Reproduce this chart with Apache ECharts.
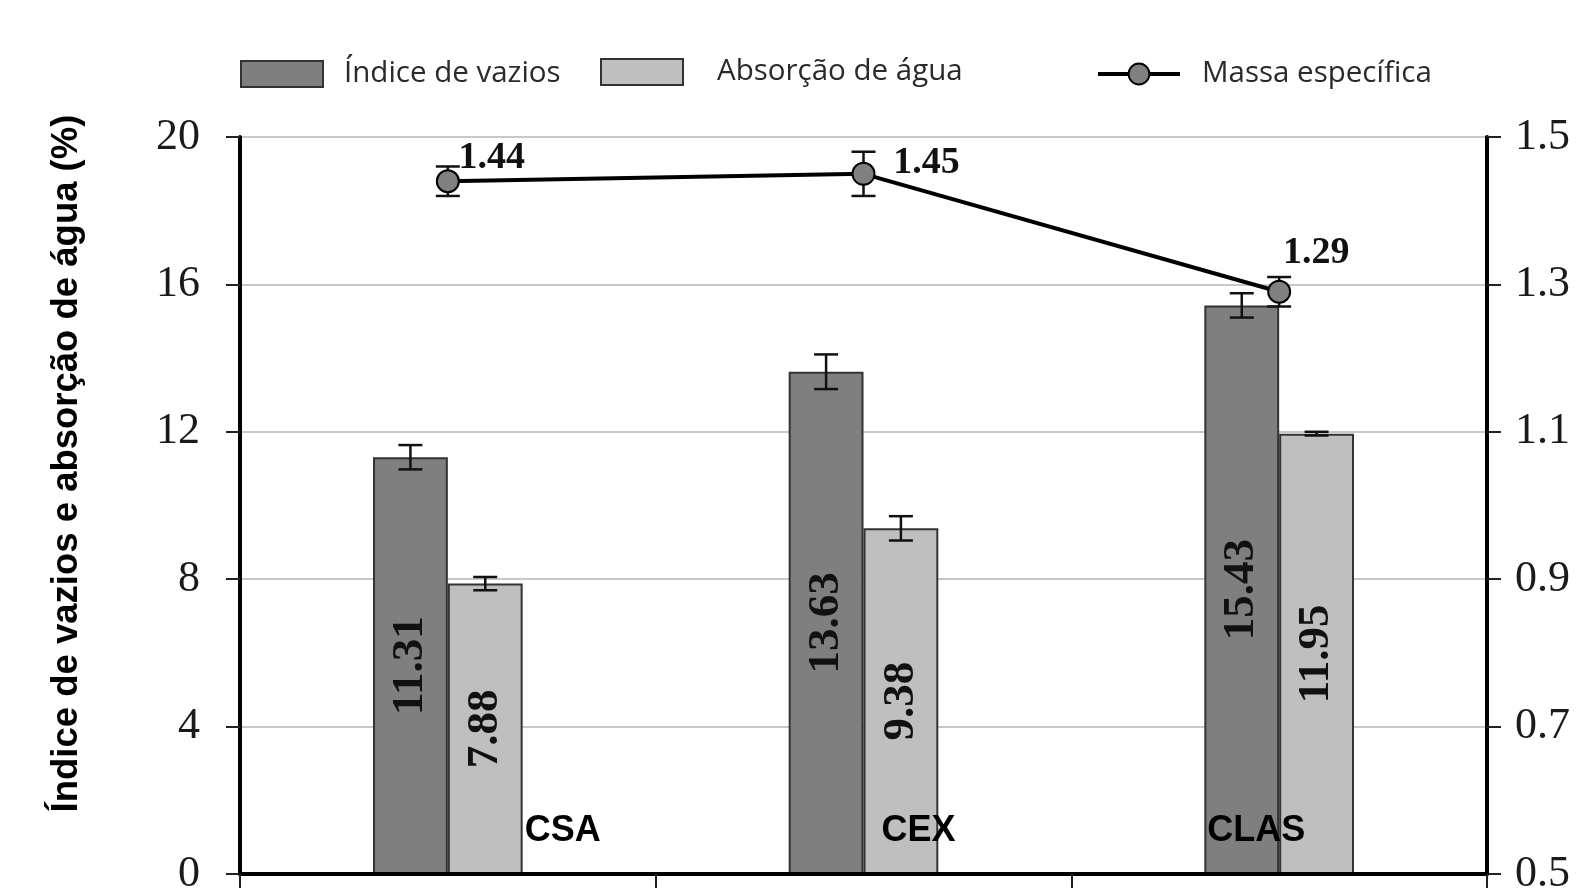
<!DOCTYPE html>
<html>
<head>
<meta charset="utf-8">
<script src="https://cdn.jsdelivr.net/npm/echarts@6/dist/echarts.min.js"></script>
<style>
html,body{margin:0;padding:0;background:#fff;}
#c{width:1579px;height:888px;}
</style>
</head>
<body>
<div id="c"></div>
<script>
var categories = ['CSA', 'CEX', 'CLAS'];
var indiceVazios = [11.31, 13.63, 15.43];
var indiceVaziosErr = [0.33, 0.47, 0.33];
var absorcaoAgua = [7.88, 9.38, 11.95];
var absorcaoAguaErr = [0.18, 0.33, 0.05];
var massaEspecifica = [1.44, 1.45, 1.29];
var massaEspecificaErr = [0.02, 0.03, 0.02];
var leftTicks = {min: 0, max: 20, interval: 4};
var rightTicks = {min: 0.5, max: 1.5, interval: 0.2};

var chart = echarts.init(document.getElementById('c'), null, {renderer: 'canvas'});

var BAR_FRAC = 0.18;
var catPadding = [[0,0,0,230],[0,0,0,110],[0,46,0,0]];
var lineLabelOffsets = [[44,-23],[63,-11],[37,-39]];

function errRender(offsetFrac, capHalf) {
  return function (params, api) {
    var x = api.value(0), y = api.value(1), e = api.value(2);
    var hi = api.coord([x, y + e]);
    var lo = api.coord([x, y - e]);
    var band = api.size([1, 0])[0];
    var cx = hi[0] + offsetFrac * band;
    var st = {stroke: '#111', lineWidth: 2.5};
    return {
      type: 'group',
      children: [
        {type: 'line', shape: {x1: cx, y1: hi[1], x2: cx, y2: lo[1]}, style: st},
        {type: 'line', shape: {x1: cx - capHalf, y1: hi[1], x2: cx + capHalf, y2: hi[1]}, style: st},
        {type: 'line', shape: {x1: cx - capHalf, y1: lo[1], x2: cx + capHalf, y2: lo[1]}, style: st}
      ]
    };
  };
}

function errData(vals, errs) {
  return vals.map(function (v, i) { return [i, v, errs[i]]; });
}

var legendText = {fontFamily: 'Open Sans', fontSize: 29.5, color: '#2a2a2a'};
var legendCommon = {padding: 0, itemWidth: 82, itemHeight: 26, lineStyle: {width: 4, color: '#000'}};

var option = {
  backgroundColor: '#ffffff',
  animation: false,
  grid: {left: 240, right: 92, top: 137, bottom: 14, containLabel: false, outerBoundsMode: 'none'},
  legend: [
    Object.assign({data: [{name: 'Índice de vazios', icon: 'rect'}], left: 240, top: 59,
     textStyle: Object.assign({padding: [0,0,0,16]}, legendText)}, legendCommon),
    Object.assign({data: [{name: 'Absorção de água', icon: 'rect'}], left: 600, top: 57,
     textStyle: Object.assign({padding: [0,0,0,29]}, legendText)}, legendCommon),
    Object.assign({data: ['Massa específica'], left: 1096, top: 59,
     textStyle: Object.assign({padding: [0,0,0,17]}, legendText)}, legendCommon)
  ],
  xAxis: {
    type: 'category',
    data: categories.map(function (c, i) {
      return {value: c, textStyle: {padding: catPadding[i]}};
    }),
    boundaryGap: true,
    axisLine: {show: true, lineStyle: {color: '#000', width: 4}},
    axisTick: {show: true, inside: false, length: 18, alignWithLabel: false, lineStyle: {color: '#222', width: 2}},
    axisLabel: {inside: true, margin: 25, interval: 0, fontFamily: 'Liberation Sans', fontWeight: 'bold', fontSize: 36, color: '#000'},
    splitLine: {show: false},
    z: 10
  },
  yAxis: [
    {
      type: 'value', min: leftTicks.min, max: leftTicks.max, interval: leftTicks.interval,
      name: 'Índice de vazios e absorção de água (%)',
      nameLocation: 'middle', nameGap: 155,
      nameTextStyle: {fontFamily: 'Liberation Sans', fontWeight: 'bold', fontSize: 36.5, color: '#000', padding: [0,0,0,84]},
      axisLine: {show: true, lineStyle: {color: '#000', width: 4}},
      axisTick: {show: true, inside: false, length: 14, lineStyle: {color: '#222', width: 2}},
      axisLabel: {margin: 40, fontFamily: 'Liberation Serif', fontSize: 44, color: '#1a1a1a'},
      splitLine: {show: true, lineStyle: {color: '#c8c8c8', width: 2}}
    },
    {
      type: 'value', min: rightTicks.min, max: rightTicks.max, interval: rightTicks.interval,
      position: 'right',
      axisLine: {show: true, lineStyle: {color: '#000', width: 4}},
      axisTick: {show: true, inside: false, length: 14, lineStyle: {color: '#222', width: 2}},
      axisLabel: {margin: 28, fontFamily: 'Liberation Serif', fontSize: 44, color: '#1a1a1a',
        formatter: function (v) { return v.toFixed(1); }},
      splitLine: {show: false}
    }
  ],
  series: [
    {
      name: 'Índice de vazios', type: 'bar', data: indiceVazios,
      barWidth: (BAR_FRAC * 100) + '%', barGap: '0%',
      itemStyle: {color: '#7f7f7f', borderColor: '#333', borderWidth: 2},
      label: {show: true, position: 'inside', rotate: 90, fontFamily: 'Liberation Serif', fontWeight: 'bold', fontSize: 45, color: '#111',
        formatter: function (p) { return p.value.toFixed(2); }}
    },
    {
      name: 'Absorção de água', type: 'bar', data: absorcaoAgua,
      barWidth: (BAR_FRAC * 100) + '%', barGap: '0%',
      itemStyle: {color: '#bfbfbf', borderColor: '#333', borderWidth: 2},
      label: {show: true, position: 'inside', rotate: 90, fontFamily: 'Liberation Serif', fontWeight: 'bold', fontSize: 45, color: '#111',
        formatter: function (p) { return p.value.toFixed(2); }}
    },
    {
      name: 'err1', type: 'custom', renderItem: errRender(-BAR_FRAC / 2, 12),
      data: errData(indiceVazios, indiceVaziosErr), z: 5, silent: true
    },
    {
      name: 'err2', type: 'custom', renderItem: errRender(BAR_FRAC / 2, 12),
      data: errData(absorcaoAgua, absorcaoAguaErr), z: 5, silent: true
    },
    {
      name: 'Massa específica', type: 'line', yAxisIndex: 1,
      data: massaEspecifica.map(function (v, i) {
        return {value: v, label: {offset: lineLabelOffsets[i]}};
      }),
      symbol: 'circle', symbolSize: 22,
      itemStyle: {color: '#808080', borderColor: '#000', borderWidth: 2},
      lineStyle: {color: '#000', width: 4},
      label: {show: true, position: 'inside', fontFamily: 'Liberation Serif', fontWeight: 'bold', fontSize: 38, color: '#111',
        formatter: function (p) { return p.value.toFixed(2); }},
      z: 8
    },
    {
      name: 'err3', type: 'custom', yAxisIndex: 1, renderItem: errRender(0, 12),
      data: errData(massaEspecifica, massaEspecificaErr), z: 7, silent: true
    }
  ]
};
chart.setOption(option);
</script>
</body>
</html>
